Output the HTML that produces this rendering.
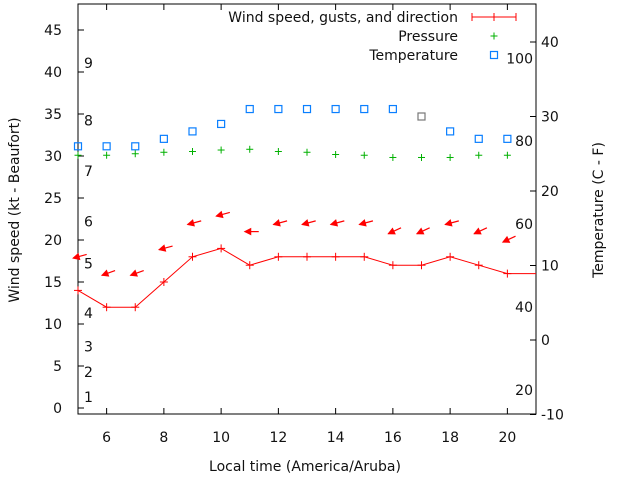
<!DOCTYPE html>
<html><head><meta charset="utf-8"><style>
body{margin:0;background:#fff}
svg{display:block;font-family:"DejaVu Sans","Liberation Sans",sans-serif}
</style></head><body>
<svg id="c" width="640" height="480">
</svg>
<script>
const hours=[5,6,7,8,9,10,11,12,13,14,15,16,17,18,19,20,21];
const windSpeed=[14,12,12,15,18,19,17,18,18,18,18,17,17,18,17,16,16];
const arrowHours=[5,6,7,8,9,10,11,12,13,14,15,16,17,18,19,20];
const arrowY=[18,16,16,19,22,23,21,22,22,22,22,21,21,22,21,20];
const windDir=[75,70,70,75,75,75,90,75,75,75,75,65,65,75,65,65];
const pressure=[24.8,24.8,25.0,25.2,25.3,25.5,25.6,25.3,25.2,24.9,24.8,24.5,24.5,24.5,24.8,24.8];
const temperature=[26,26,26,27,28,29,31,31,31,31,31,31,30,28,27,27];
const leftTicks=[0,5,10,15,20,25,30,35,40,45];
const rightTicks=[-10,0,10,20,30,40];
const xTicks=[6,8,10,12,14,16,18,20];
const beaufort=[["1",1.3],["2",4.3],["3",7.3],["4",11.3],["5",17.2],["6",22.2],["7",28.2],["8",34.2],["9",41.1]];
const fahr=[["20",-6.7],["40",4.4],["60",15.6],["80",26.7],["100",37.8]];

const L=78,R=536,T=4,B=414;
const X=h=>L+(h-5)*(R-L)/16;
const YL=v=>408-v*8.4;
const YR=v=>340-v*7.45;
const svg=document.getElementById('c');
const NS='http://www.w3.org/2000/svg';
function mk(tag,attrs,parent){const e=document.createElementNS(NS,tag);for(const k in attrs)e.setAttribute(k,attrs[k]);(parent||svg).appendChild(e);return e;}
function txt(s,x,y,anchor,name,extra){const e=mk('text',Object.assign({x:x,y:y,'text-anchor':anchor||'start','font-size':14,fill:'#111'},extra||{}));e.textContent=s;


return e;}
function plus(x,y,col,sz){const g=mk('g',{stroke:col,'stroke-width':1});mk('line',{x1:x-sz,y1:y,x2:x+sz,y2:y},g);mk('line',{x1:x,y1:y-sz,x2:x,y2:y+sz},g);return g;}

const fr=mk('rect',{x:L,y:T,width:R-L,height:B-T,fill:'none',stroke:'#000','stroke-width':1});


leftTicks.forEach(v=>{const y=YL(v);mk('line',{x1:L,y1:y,x2:L+6,y2:y,stroke:'#000'});txt(String(v),62,y+5,'end','y-left-tick-label');});
rightTicks.forEach(v=>{const y=YR(v);mk('line',{x1:R-6,y1:y,x2:R,y2:y,stroke:'#000'});txt(String(v),541,y+5,'start','y-right-tick-label');});
xTicks.forEach(h=>{const x=X(h);mk('line',{x1:x,y1:B,x2:x,y2:B-6,stroke:'#000'});mk('line',{x1:x,y1:T,x2:x,y2:T+6,stroke:'#000'});txt(String(h),x,442,'middle','x-tick-label');});
beaufort.forEach(b=>txt(b[0],84,YL(b[1])+5,'start','beaufort-label'));
fahr.forEach(f=>txt(f[0],533,YR(f[1])+5,'end','fahrenheit-label'));

temperature.forEach((v,i)=>{const r=mk('rect',{x:X(hours[i])-3.5,y:YR(v)-3.5,width:7,height:7,fill:'none',stroke:i==12?'#777':'#0a7fff','stroke-width':1.2});

});
pressure.forEach((v,i)=>{const g=plus(X(hours[i]),YR(v),'#00b000',3.5);

});
const pts=windSpeed.map((v,i)=>X(hours[i])+','+YL(v)).join(' ');
const pl=mk('polyline',{points:pts,fill:'none',stroke:'#f00','stroke-width':1});


windSpeed.forEach((v,i)=>{if(hours[i]<21){const g=plus(X(hours[i]),YL(v),'#f00',4);

}});
arrowY.forEach((v,i)=>{const x=X(arrowHours[i]),y=YL(v);const a=windDir[i]*Math.PI/180;
const dx=Math.sin(a)*14,dy=-Math.cos(a)*14;
const g=mk('g',{});


const tx=x-5*Math.sin(a),ty=y+5*Math.cos(a);
mk('line',{x1:tx,y1:ty,x2:tx+dx,y2:ty+dy,stroke:'#f00','stroke-width':1.2},g);
const ux=dx/14,uy=dy/14;
const p1=[tx+ux*6-uy*3,ty+uy*6+ux*3],p2=[tx+ux*6+uy*3,ty+uy*6-ux*3];
mk('polygon',{points:`${tx},${ty} ${p1} ${p2}`,fill:'#f00',stroke:'#f00'},g);});

txt('Wind speed, gusts, and direction',458,22,'end','legend-wind-label');
const lg=mk('g',{stroke:'#f00'});


mk('line',{x1:472,y1:17,x2:516,y2:17},lg);[472,494,516].forEach(x=>mk('line',{x1:x,y1:13,x2:x,y2:21},lg));
txt('Pressure',458,41,'end','legend-pressure-label');
const lp=plus(494,36,'#00b000',3.5);


txt('Temperature',458,60,'end','legend-temperature-label');
const ls=mk('rect',{x:490.5,y:51.5,width:7,height:7,fill:'none',stroke:'#0a7fff','stroke-width':1.2});



txt('Local time (America/Aruba)',305,471,'middle','x-axis-title');
txt('Wind speed (kt - Beaufort)',0,0,'middle','y-left-axis-title',{transform:'translate(19,210) rotate(-90)'});
txt('Temperature (C - F)',0,0,'middle','y-right-axis-title',{transform:'translate(603,210) rotate(-90)'});
</script>
</body></html>
